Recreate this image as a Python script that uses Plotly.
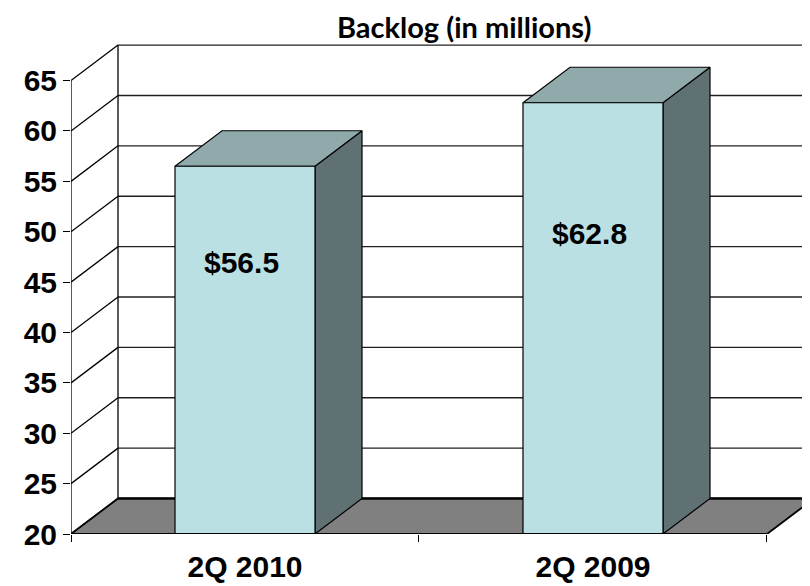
import plotly.graph_objects as go

# ---- data ----
categories = ["2Q 2010", "2Q 2009"]
backlog = [56.5, 62.8]
y_ticks = [20, 25, 30, 35, 40, 45, 50, 55, 60, 65]
title_text = "Backlog (in millions)"

# ---- 3D geometry (axis units) ----
base = 20
top_v = 65
DX = 0.1351      # depth offset in x units
DY = 3.524       # depth offset in value units
BW = 0.4023      # bar width
XMAX = 2.1236
YMAX = 69.03
LINE = "#000000"

FRONT = "#BBE0E3"
SIDE = "#5F7173"
TOP = "#90AAAC"
FLOOR = "#808080"

fig = go.Figure()

def poly(xs, ys, fill, lw=1.2):
    fig.add_trace(go.Scatter(x=xs + [xs[0]], y=ys + [ys[0]], mode="lines", fill="toself",
                             fillcolor=fill, line=dict(color=LINE, width=lw),
                             hoverinfo="skip", showlegend=False))

def lines(xs, ys, lw=1.2, color=LINE):
    fig.add_trace(go.Scatter(x=xs, y=ys, mode="lines", line=dict(color=color, width=lw),
                             hoverinfo="skip", showlegend=False))

# back wall gridlines and left-wall diagonals
gx, gy, dxs, dys = [], [], [], []
for v in y_ticks:
    gx += [DX, XMAX + 1, None]
    gy += [v + DY, v + DY, None]
    dxs += [0, DX, None]
    dys += [v, v + DY, None]
lines(gx, gy, lw=1.3, color="#202020")
lines(dxs, dys, lw=1.3)
# back wall left edge
lines([DX, DX], [base + DY, top_v + DY], lw=1.3)

# floor
poly([0, 2, 2 + DX, XMAX + 1, XMAX + 1, DX], [base, base, base + DY, base + DY, base + DY, base + DY], FLOOR, lw=1.8)
lines([DX, XMAX + 1], [base + DY, base + DY], lw=2.2)

# bars
for i, v in enumerate(backlog):
    c = i + 0.5
    l, r = c - BW / 2, c + BW / 2
    poly([r, r + DX, r + DX, r], [base, base + DY, v + DY, v], SIDE)
    poly([l, r, r + DX, l + DX], [v, v, v + DY, v + DY], TOP)
    poly([l, r, r, l], [base, base, v, v], FRONT)

# front axes lines
lines([0, 0], [base, top_v], lw=1.3)
lines([0, 2], [base, base], lw=1.8)

ARIAL = "Liberation Sans, Arial"

# value labels
label_frac = [0.737, 0.696]
annotations = []
for i, v in enumerate(backlog):
    annotations.append(dict(x=i + 0.5 - 0.01, y=base + (v - base) * label_frac[i], xref="x", yref="y",
                            text=f"${v:.1f}", showarrow=False,
                            font=dict(family=ARIAL, size=30, color="black", weight="bold")))
annotations.append(dict(x=(464 - 71) / 739, y=1 + 14 / 494, xref="paper", yref="paper",
                        text=title_text, showarrow=False, yanchor="middle", borderpad=0,
                        font=dict(family="Lato, Open Sans", size=29, color="black", weight="bold")))

# page body has an 8px margin, so the figure is 8px smaller and margins compensate
fig.update_layout(
    width=802, height=578,
    margin=dict(l=63, r=0, t=32, b=52),
    plot_bgcolor="white", paper_bgcolor="white",
    showlegend=False,
    annotations=annotations,
    xaxis=dict(range=[0, XMAX], showgrid=False, zeroline=False, showline=False,
               tickvals=[0.5, 1.5], ticktext=categories, ticks="",
               tickfont=dict(family=ARIAL, size=30, color="black", weight="bold"),
               ticklabelstandoff=12, automargin=False,
               minor=dict(tickvals=[0, 1, 2], ticks="outside", ticklen=7, tickcolor="black", tickwidth=1.3),
               fixedrange=True),
    yaxis=dict(range=[base, YMAX], showgrid=False, zeroline=False, showline=False,
               tickvals=y_ticks, ticks="outside", ticklen=7, tickcolor="black", tickwidth=1.3,
               tickfont=dict(family=ARIAL, size=30, color="black", weight="bold"),
               ticklabelstandoff=0, automargin=False,
               fixedrange=True),
)

fig.write_html("out.html")
